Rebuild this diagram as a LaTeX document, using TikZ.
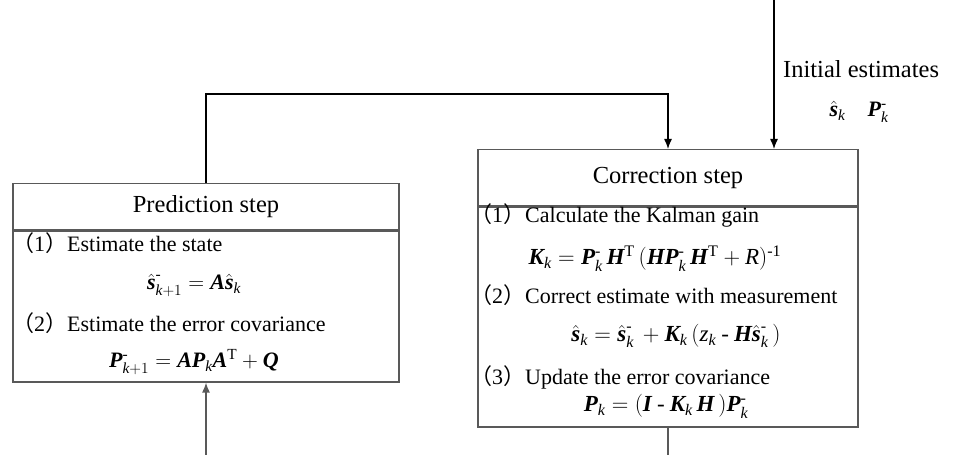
\RequirePackage{fix-cm}
\documentclass[tikz,border=0pt]{standalone}
\usepackage{amsmath}
\usepackage{fontspec}
\setmainfont{Liberation Serif}
\newfontfamily\cjk{Noto Sans CJK SC}
\usetikzlibrary{arrows.meta,positioning}

\newcommand{\bvar}[1]{\text{\bfseries\itshape #1}}
\newcommand{\ivar}[1]{\text{\itshape #1}}
\newcommand{\num}[1]{{\cjk （}#1{\cjk ）}}

\tikzset{
	headbox/.style={draw=black!65, line width=1.3pt, inner sep=0pt, font=\fontsize{24.5}{28}\selectfont},
	bodybox/.style={draw=black!65, line width=1.3pt, inner sep=0pt},
	itemtext/.style={anchor=base west, inner sep=0pt, font=\fontsize{22}{26}\selectfont},
	eqtext/.style={anchor=base, inner sep=0pt, font=\fontsize{22}{26}\selectfont},
	flow/.style={line width=1.3pt, -{Latex[length=10pt,width=8pt]}},
}

\begin{document}
\begin{tikzpicture}[x=1pt,y=1pt]
			%%%%% START %%%%%
			\useasboundingbox (0,0) rectangle (954,455);
			
			% prediction block
			\node[headbox, minimum width=386pt, minimum height=46pt, anchor=north] (predhead) at (206,272) {Prediction step};
			\node[bodybox, minimum width=386pt, minimum height=151pt, below=0pt of predhead] (predbody) {};
			
			\node[itemtext] (pred1) at (12,203) {\num{1}Estimate the state};
			\node[eqtext] (predeq1) at (194,165) {$\hat{\bvar{s}}^{\text{-}}_{\ivar{k}+1} = \bvar{A}\hat{\bvar{s}}_{\ivar{k}}$};
			\node[itemtext] (pred2) at (12,123) {\num{2}Estimate the error covariance};
			\node[eqtext] (predeq2) at (194,87) {$\bvar{P}^{\text{-}}_{\ivar{k}+1} = \bvar{A}\bvar{P}_{\ivar{k}}\bvar{A}^{\text{T}} + \bvar{Q}$};
			
			% correction block
			\node[headbox, minimum width=380pt, minimum height=56pt, anchor=north] (corrhead) at (668,306) {Correction step};
			\node[bodybox, minimum width=380pt, minimum height=220pt, below=0pt of corrhead] (corrbody) {};
			
			\node[itemtext] (corr1) at (470,232) {\num{1}Calculate the Kalman gain};
			\node[eqtext, font=\fontsize{23}{27}\selectfont] (correq1) at (655,190) {$\bvar{K}_{\ivar{k}} = \bvar{P}^{\text{-}}_{\ivar{k}}\,\bvar{H}^{\text{T}}\,(\bvar{H}\bvar{P}^{\text{-}}_{\ivar{k}}\,\bvar{H}^{\text{T}} + \ivar{R})^{\text{-1}}$};
			\node[itemtext] (corr2) at (470,151) {\num{2}Correct estimate with measurement};
			\node[eqtext, font=\fontsize{23}{27}\selectfont] (correq2) at (676,113) {$\hat{\bvar{s}}_{\ivar{k}} = \hat{\bvar{s}}^{\text{-}}_{\ivar{k}}\, + \bvar{K}_{\ivar{k}}\,(\ivar{z}_{\ivar{k}} \mathbin{\text{-}} \bvar{H}\hat{\bvar{s}}^{\text{-}}_{\ivar{k}}\,)$};
			\node[itemtext] (corr3) at (470,70) {\num{3}Update the error covariance};
			\node[eqtext, font=\fontsize{23}{27}\selectfont] (correq3) at (666,43) {$\bvar{P}_{\ivar{k}} = (\bvar{I} \mathbin{\text{-}} \bvar{K}_{\ivar{k}}\,\bvar{H}\,)\bvar{P}^{\text{-}}_{\ivar{k}}$};
			
			% initial values
			\node[itemtext, font=\fontsize{24.5}{28}\selectfont] (initlabel) at (783,377) {Initial estimates};
			\node[eqtext] (initeq) at (859,338) {$\hat{\bvar{s}}_{\ivar{k}}\quad \bvar{P}^{\text{-}}_{\ivar{k}}$};
			
			\coordinate (init) at (774,455);
			\coordinate (loop) at (668,361);
			\coordinate (predin) at (206,0);
			\coordinate (corrout) at (668,0);
			
			% connectors
			\draw[flow] (init) -- (corrhead.north -| init);
			\draw[flow] (predhead.north) |- (loop) -- (corrhead.north);
			\draw[flow, color=black!65] (predin) -- (predbody.south);
			\draw[line width=1.3pt, color=black!65] (corrbody.south) -- (corrout);
			
			%%%%% END %%%%%
\end{tikzpicture}
\end{document}
